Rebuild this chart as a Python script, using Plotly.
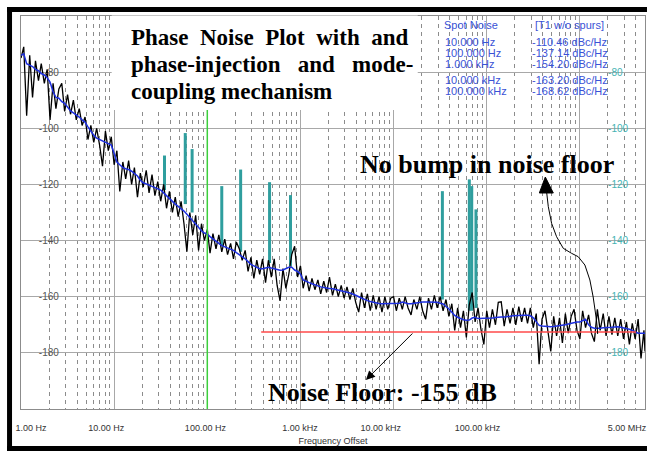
import plotly.graph_objects as go
import math

# ---------------- data ----------------
# sweep grid: mantissas per decade (32 points per decade)
mantissa = [1.00, 1.07, 1.15, 1.24, 1.33, 1.43, 1.54, 1.65, 1.78, 1.91, 2.05, 2.21,
            2.37, 2.55, 2.74, 2.94, 3.16, 3.40, 3.65, 3.92, 4.22, 4.53, 4.87, 5.23,
            5.62, 6.04, 6.49, 6.98, 7.50, 8.06, 8.66, 9.31]
stop_hz = 5.0e6

# raw trace (black), dBc/Hz, per decade
black_d0 = [-75, -71, -95.5, -74, -89, -76, -83, -77, -84, -79, -97, -84, -93, -86, -84, -94,
            -88, -95, -90, -97, -93, -99, -96, -104, -99, -105, -100, -106, -113.5, -101, -108, -103]
black_d1 = [-113, -108, -122.5, -112, -118, -111.5, -120, -114, -124.5, -116, -121, -115, -123, -116.5, -124, -119,
            -126, -120, -128.5, -122.5, -130, -124.5, -131.5, -126, -134, -144, -130, -138, -131, -143.5, -134, -140]
black_d2 = [-136, -144.5, -137.5, -143, -138, -144, -139.5, -145, -141, -146.5, -140.5, -143, -147, -143.5, -151, -146,
            -153.5, -147, -152, -146.5, -155, -147, -153, -146.5, -156, -161.5, -150, -157, -152, -145, -142, -153]
black_d3 = [-149, -157, -152.5, -158, -153.5, -157.5, -154, -159, -154.5, -158.5, -153, -159.5, -155.5, -160, -156, -160.5,
            -156.5, -161, -157, -162, -165.5, -158.5, -164, -159, -165, -159.5, -164.5, -160, -165.5, -160, -164.5, -160.5]
black_d4 = [-160, -165, -160.5, -164.5, -160, -164, -166.5, -161, -164.5, -160, -165, -168, -160.5, -164.5, -159.5, -164,
            -160, -165, -161, -167, -162.5, -172, -164, -171, -165, -174.5, -163, -158.5, -169, -164, -171.5, -177]
black_d5 = [-165, -171, -164.5, -170, -162, -161.8, -170.5, -164.5, -169.5, -164, -170, -163.5, -169, -164, -169.5, -164,
            -171, -166, -184, -168, -165, -173, -179.5, -167, -174, -167.5, -176.5, -166, -173, -167, -164.5, -172]
black_d6 = [-175, -165, -171, -166.5, -173, -176, -164.5, -172, -166, -174, -167, -173.5, -167.5, -174, -168, -175,
            -169, -177, -169.5, -175, -168, -182, -172, -179.5]

# smoothed trace (blue), dBc/Hz, per decade
blue_d0 = [-74, -73.5, -77, -77.5, -78, -79, -79.5, -80.5, -81, -82, -83.5, -87, -89, -89.3, -90.5, -91.1,
           -92.5, -93.8, -94.5, -95.2, -96, -97, -97.8, -99.5, -101, -102.5, -103.5, -104, -104.4, -104.9, -105.4, -106]
blue_d1 = [-109, -112, -113, -114, -114.4, -114.7, -115.3, -116, -117, -118.5, -119.4, -119.8, -120.2, -120.6, -121, -121.5,
           -122, -123, -124, -125, -126.3, -127, -127.8, -128.6, -129.5, -130.6, -131.8, -133, -134.2, -135.5, -136.5, -137.3]
blue_d2 = [-137.7, -138.6, -139.5, -140.2, -141, -141.8, -142.2, -142.6, -143, -143.5, -144.3, -145, -145.5, -146.5, -147.5, -148.5,
           -149, -149.5, -150, -150, -149.6, -149.5, -149.8, -150.1, -150.3, -150.6, -150.5, -150, -149.5, -149.5, -150.5, -151]
blue_d3 = [-152, -154, -154.6, -155, -155.4, -155.8, -156.2, -156.5, -156.7, -157, -157.1, -157.2, -157.4, -157.6, -157.8, -158,
           -158.4, -158.7, -159, -159.5, -160, -160.5, -161, -161.4, -161.7, -162, -162.2, -162.4, -162.5, -162.5, -162.5, -162.5]
blue_d4 = [-162.5, -162.5, -162.3, -161.9, -162.2, -162.5, -162.5, -162.3, -162.1, -161.9, -161.9, -161.9, -161.9, -161.9, -161.8, -162,
           -162.3, -162.6, -163.5, -164.3, -165.5, -166.7, -167.3, -167.8, -168.2, -168.4, -168.3, -167.6, -167.3, -167.8, -167.8, -167.8]
blue_d5 = [-167.8, -167.8, -167.6, -167.4, -167.2, -167.2, -167.2, -167.2, -167, -166.8, -166.7, -166.6, -166.6, -166.6, -166.6, -166.8,
           -167.5, -169, -170.2, -170.4, -170.5, -170.7, -170.7, -170.6, -170.5, -170.4, -170.2, -170, -169.7, -169.4, -169.2, -169]
blue_d6 = [-169, -168.5, -168, -170, -170.9, -171.2, -171.3, -171.2, -171.1, -171.1, -171, -170.9, -170.8, -170.7, -170.9, -171.1,
           -171.3, -171.6, -172, -172.5, -173, -173, -173, -173]

# spurs (teal)
spur_hz = [34.7, 58, 68.7, 143, 228, 466, 782, 33400, 65000, 69000, 76600]
spur_top = [-109.7, -101.7, -107.4, -120.6, -114.7, -119.2, -123.8, -122.4, -118.2, -120.6, -128.9]
spur_base = [-122, -127, -130, -142, -144, -148, -149, -161, -165, -165, -164]

# marker line and noise-floor line
marker_hz = 100
floor_hz = [379, 4.0e6]
floor_dbc = [-172.6, -172.6]

# axis ticks / labels
y_ticks = [-180, -160, -140, -120, -100, -80]
x_tick_text = ["1.00 Hz", "10.00 Hz", "100.00 Hz", "1.00 kHz", "10.00 kHz", "100.00 kHz", "5.00 MHz"]
x_tick_label_hz = [1.28, 8.22, 95.4, 991, 7290, 79600, 3.21e6]

spot_freq = ["10.000 Hz", "100.000 Hz", "1.000 kHz", "10.000 kHz", "100.000 kHz"]
spot_val = ["-110.46 dBc/Hz", "-137.14 dBc/Hz", "-154.20 dBc/Hz", "-163.20 dBc/Hz", "-168.62 dBc/Hz"]

# ---------------- build series ----------------
freq = []
for d in range(7):
    for m in mantissa:
        f = m * 10 ** d
        if f < stop_hz:
            freq.append(f)
freq.append(stop_hz)
black = black_d0 + black_d1 + black_d2 + black_d3 + black_d4 + black_d5 + black_d6
blue = blue_d0 + blue_d1 + blue_d2 + blue_d3 + blue_d4 + blue_d5 + blue_d6

sx, sy = [], []
for f, t, b in zip(spur_hz, spur_top, spur_base):
    sx += [f, f, None]
    sy += [b, t, None]

# ---------------- layout geometry ----------------
W, H = 649, 452
L, R, T, B = 21, 2, 16, 43
PW, PH = W - L - R, H - T - B


def px_x(x):
    return (x - L) / PW


def px_y(y):
    return (T + PH - y) / PH


xr = [0, math.log10(stop_hz)]
yr = [-200, -60]

fig = go.Figure()
fig.add_trace(go.Scatter(x=[marker_hz, marker_hz], y=yr, mode="lines", xaxis="x2", yaxis="y3",
                         line=dict(color="#3ccf3c", width=1.5), hoverinfo="skip"))
fig.add_trace(go.Scatter(x=sx, y=sy, mode="lines", line=dict(color="#2f9e9e", width=3), hoverinfo="skip"))
fig.add_trace(go.Scatter(x=freq, y=black, mode="lines", line=dict(color="black", width=1.3)))
fig.add_trace(go.Scatter(x=freq, y=blue, mode="lines", line=dict(color="#1e30e0", width=1.5)))
fig.add_trace(go.Scatter(x=floor_hz, y=floor_dbc, mode="lines", yaxis="y2",
                         line=dict(color="#ff4a4a", width=1.5)))

major_x = [10 ** d for d in range(7)]
minor_x = [m * 10 ** d for d in range(7) for m in range(2, 10) if m * 10 ** d <= stop_hz]

grid_col = "#a8a8a8"
fig.update_layout(
    width=W, height=H, margin=dict(l=L, r=R, t=T, b=B, pad=0),
    paper_bgcolor="white", plot_bgcolor="white", showlegend=False,
    font=dict(family="Liberation Sans", size=9, color="#333"),
    xaxis=dict(type="log", range=xr, tickmode="array", tickvals=major_x, showticklabels=False,
               showgrid=True, gridcolor=grid_col, gridwidth=1, ticks="",
               showline=True, linecolor="#8c8c8c", linewidth=1, mirror=True, zeroline=False,
               minor=dict(tickmode="array", tickvals=minor_x, showgrid=True, gridcolor="#8c8c8c",
                          griddash="4px,4px", gridwidth=1, ticks="")),
    xaxis2=dict(type="log", range=xr, overlaying="x", anchor="free", position=0, side="bottom",
                tickmode="array", tickvals=x_tick_label_hz, ticktext=x_tick_text,
                ticklabeloverflow="allow",
                showgrid=False, showline=False, zeroline=False,
                ticks="outside", ticklen=10, tickcolor="rgba(0,0,0,0)",
                tickfont=dict(family="Liberation Sans", size=9, color="#333"),
                title=dict(text="Frequency Offset", standoff=5,
                           font=dict(family="Liberation Sans", size=9, color="#333"))),
    yaxis=dict(range=yr, tickmode="array", tickvals=y_ticks, showticklabels=False, ticks="",
               showgrid=True, gridcolor=grid_col, gridwidth=1, zeroline=False,
               showline=True, linecolor="#8c8c8c", linewidth=1, mirror=True),
    yaxis3=dict(range=yr, overlaying="y", side="left", anchor="free", position=px_x(59),
                tickmode="array", tickvals=y_ticks, ticktext=[str(v) for v in y_ticks],
                ticks="", showgrid=False, zeroline=False, showline=False,
                tickfont=dict(family="Liberation Sans", size=10, color="#555")),
    yaxis2=dict(range=yr, overlaying="y", side="right", anchor="free", position=px_x(609),
                tickmode="array", tickvals=y_ticks, ticktext=[str(v) for v in y_ticks],
                ticks="", showgrid=False, zeroline=False, showline=False,
                tickfont=dict(family="Liberation Sans", size=10, color="#45b3b3")),
)

shapes = []
# white box behind the title
shapes.append(dict(type="rect", xref="paper", yref="paper", layer="above",
                   x0=px_x(112), x1=px_x(419), y0=px_y(110), y1=px_y(15.5),
                   fillcolor="white", line=dict(width=0)))
# black scan frame
for (x0, x1, y0, y1) in [(7, 12, 7, 451), (7, 649, 7, 12), (7, 649, 446, 451)]:
    shapes.append(dict(type="rect", xref="paper", yref="paper", layer="above",
                       x0=px_x(x0), x1=px_x(x1), y0=px_y(y1), y1=px_y(y0),
                       fillcolor="black", line=dict(width=0)))
# curved arrow
curve_px = [(599.5, 334), (599.3, 330), (598.3, 320), (597.3, 313), (595, 297), (591.7, 280),
            (586.7, 265), (580, 256.7), (573.3, 253.3), (565, 248.3), (558.3, 236.7),
            (553.3, 223.3), (550, 206.7), (548.3, 192)]
path = "M " + " L ".join(f"{px_x(x):.5f},{px_y(y):.5f}" for x, y in curve_px)
shapes.append(dict(type="path", xref="paper", yref="paper", layer="above", path=path,
                   line=dict(color="black", width=1)))
head = [(547, 177), (541, 193), (555, 193)]
hpath = "M " + " L ".join(f"{px_x(x):.5f},{px_y(y):.5f}" for x, y in head) + " Z"
shapes.append(dict(type="path", xref="paper", yref="paper", layer="above", path=hpath,
                   fillcolor="black", line=dict(color="black", width=1)))
fig.update_layout(shapes=shapes)

ann = []
serif = "Liberation Serif"
title_lines = ["Phase  Noise  Plot  with  and", "phase-injection   and   mode-", "coupling mechanism"]
for txt, yc in zip(title_lines, [37.5, 64.5, 91]):
    ann.append(dict(text=f"<b>{txt}</b>", xref="paper", yref="paper", x=px_x(129), y=px_y(yc),
                    xanchor="left", yanchor="middle", showarrow=False,
                    font=dict(family=serif, size=23, color="black")))
ann.append(dict(text="<b>No bump in noise floor</b>", xref="paper", yref="paper",
                x=px_x(488), y=px_y(164), xanchor="center", yanchor="middle", showarrow=False,
                font=dict(family=serif, size=26, color="black")))
ann.append(dict(text="<b>Noise Floor: -155 dB</b>", xref="paper", yref="paper",
                x=px_x(384), y=px_y(392), xanchor="center", yanchor="middle", showarrow=False,
                font=dict(family=serif, size=26, color="black")))
# straight arrow
ann.append(dict(text="", xref="paper", yref="paper", x=px_x(367), y=px_y(380),
                ax=48, ay=-48, showarrow=True, arrowhead=2, arrowsize=1.8, arrowwidth=1,
                arrowcolor="black"))
# spot noise table
tcol = "#3a52d6"
tfont = dict(family="Liberation Sans", size=11, color=tcol)
rows_y = [41.5, 53, 64.5, 80, 91.5]
ann.append(dict(text="Spot Noise", xref="paper", yref="paper", x=px_x(443), y=px_y(25),
                xanchor="left", yanchor="middle", showarrow=False, font=tfont))
ann.append(dict(text="[T1 w/o spurs]", xref="paper", yref="paper", x=px_x(535), y=px_y(25),
                xanchor="left", yanchor="middle", showarrow=False, font=tfont))
for fq, vv, yy in zip(spot_freq, spot_val, rows_y):
    ann.append(dict(text=fq, xref="paper", yref="paper", x=px_x(444), y=px_y(yy),
                    xanchor="left", yanchor="middle", showarrow=False, font=tfont))
    ann.append(dict(text=vv, xref="paper", yref="paper", x=px_x(532), y=px_y(yy),
                    xanchor="left", yanchor="middle", showarrow=False, font=tfont))
fig.update_layout(annotations=ann)

fig.write_html("out.html")
